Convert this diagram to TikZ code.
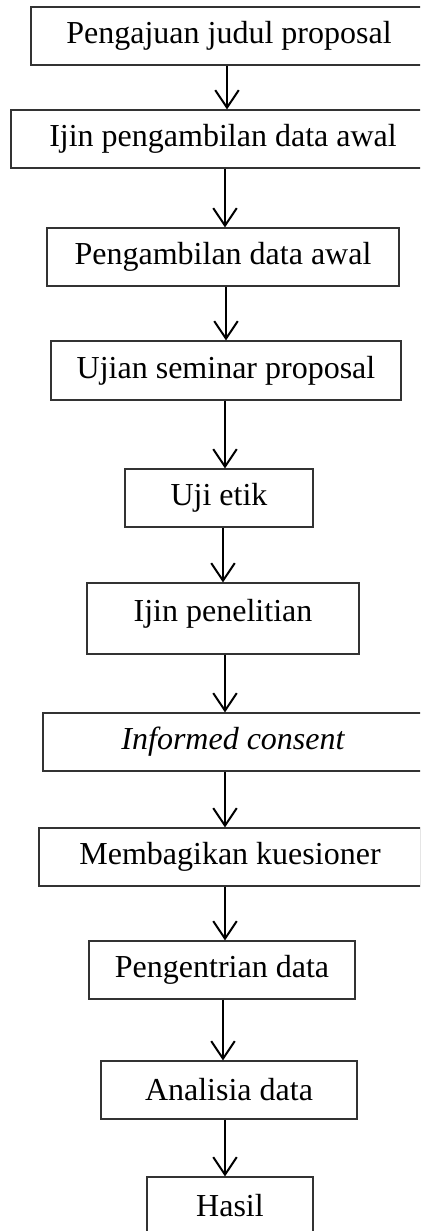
\documentclass[tikz,border=0pt]{standalone}
\usepackage{fontspec}
\setmainfont{Liberation Serif}
\usetikzlibrary{arrows.meta}
\colorlet{boxcolor}{black!80}

\begin{document}
\begin{tikzpicture}[x=0.4pt, y=-0.4pt,
        stepbox/.style={draw=boxcolor, line width=0.45pt, rectangle, inner sep=0pt,
                minimum height=23.2pt, font=\fontsize{12.8}{15}\selectfont},
        flow/.style={line width=0.8pt, -{Straight Barb[length=7pt, width=9.4pt, line width=0.8pt]}}]
        \clip (0, 0) rectangle (420, 1231); % page = reference picture
        % Steps {{{
        \node[stepbox, minimum width=158.4pt] (judul) at (229, 36) {Pengajuan judul proposal};
        \node[stepbox, minimum width=169.6pt] (ijinawal) at (223, 139) {Ijin pengambilan data awal};
        \node[stepbox, minimum width=140.8pt] (ambildata) at (223, 257) {Pengambilan data awal};
        \node[stepbox, minimum width=140pt, minimum height=23.6pt] (seminar) at (226, 370.5) {Ujian seminar proposal};
        \node[stepbox, minimum width=75.2pt] (etik) at (219, 498) {Uji etik};
        \node[stepbox, minimum width=108.8pt, minimum height=28.4pt, text depth=6.5pt] (ijinteliti) at (223, 618.5) {Ijin penelitian};
        \node[stepbox, minimum width=152pt] (consent) at (233, 742) {\itshape Informed consent};
        \node[stepbox, minimum width=152.8pt] (kuesioner) at (230, 857) {Membagikan kuesioner};
        \node[stepbox, minimum width=106.4pt] (entri) at (222, 970) {Pengentrian data};
        \node[stepbox, minimum width=102.4pt] (analisa) at (229, 1090) {Analisia data};
        \node[stepbox, minimum width=66.4pt] (hasil) at (230, 1206) {Hasil};
        % }}}
        % Arrows {{{
        \draw[flow] (judul.south -| 227,0) -- (ijinawal.north -| 227,0);
        \draw[flow] (ijinawal.south -| 225,0) -- (ambildata.north -| 225,0);
        \draw[flow] (ambildata.south -| 226,0) -- (seminar.north -| 226,0);
        \draw[flow] (seminar.south -| 225,0) -- (etik.north -| 225,0);
        \draw[flow] (etik.south -| 223,0) -- (ijinteliti.north -| 223,0);
        \draw[flow] (ijinteliti.south -| 225,0) -- (consent.north -| 225,0);
        \draw[flow] (consent.south -| 225,0) -- (kuesioner.north -| 225,0);
        \draw[flow] (kuesioner.south -| 225,0) -- (entri.north -| 225,0);
        \draw[flow] (entri.south -| 223,0) -- (analisa.north -| 223,0);
        \draw[flow] (analisa.south -| 225,0) -- (hasil.north -| 225,0);
        % }}}
\end{tikzpicture}
\end{document}
